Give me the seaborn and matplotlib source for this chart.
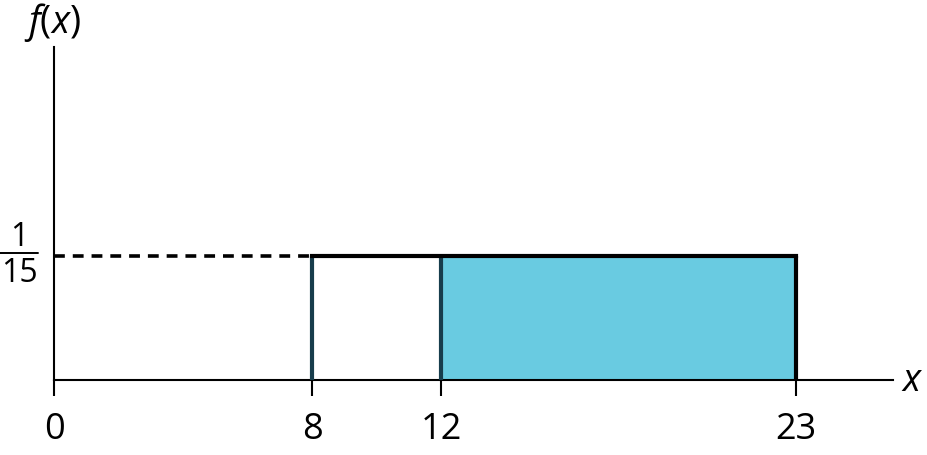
import matplotlib
matplotlib.use("Agg")
import matplotlib.pyplot as plt
import seaborn as sns
import pandas as pd

# data
a_val = 8
c_val = 12
b_val = 23
height = 1 / 15
x_ticks = [0, 8, 12, 23]
x_tick_labels = ["0", "8", "12", "23"]
y_num = "1"
y_den = "15"

sns.set_theme(style="ticks")
plt.rcParams["font.family"] = ["Open Sans", "DejaVu Sans"]
plt.rcParams["mathtext.fontset"] = "custom"
plt.rcParams["mathtext.rm"] = "Open Sans"
plt.rcParams["mathtext.it"] = "Open Sans:italic"

fig = plt.figure(figsize=(9.27, 4.56), dpi=100)
ax = fig.add_axes([54 / 927, 1 - 381 / 456, (893 - 54) / 927, (381 - 48) / 456])
ax.set_xlim(0, 26)
ymax = (381 - 48) / 124 * height
ax.set_ylim(0, ymax)

# shaded region
ax.fill_between([c_val, b_val], [height, height], 0, color="#69cbe1", linewidth=0, zorder=1)

# top line
top = pd.DataFrame({"x": [a_val, b_val], "y": [height, height]})
sns.lineplot(data=top, x="x", y="y", ax=ax, color="black", linewidth=3, zorder=4,
             solid_capstyle="projecting")
# dashed guide
guide = pd.DataFrame({"x": [0, a_val], "y": [height, height]})
sns.lineplot(data=guide, x="x", y="y", ax=ax, color="black", linewidth=2.6,
             linestyle=(0, (3, 2.2)), zorder=3)

ax.vlines([a_val, c_val], 0, height, color="#173d4c", linewidth=3, zorder=3)
ax.vlines([b_val], 0, height, color="black", linewidth=3, zorder=3)

# tick marks below the axis
tick_len = 16 / 124 * height
ax.vlines(x_ticks, -tick_len, 0, color="black", linewidth=1.5, clip_on=False, zorder=5)

for s in ["top", "right"]:
    ax.spines[s].set_visible(False)
for s in ["left", "bottom"]:
    ax.spines[s].set_color("black")
    ax.spines[s].set_linewidth(1.5)

ax.set_xticks(x_ticks)
ax.set_xticklabels(x_tick_labels, fontsize=26)
ax.tick_params(axis="x", length=0, pad=22, labelcolor="black")
ax.set_yticks([])
ax.set_xlabel("")
ax.set_ylabel("")

# fraction label for 1/15
fig.text(19 / 927, 1 - 238 / 456, y_num, fontsize=23, ha="center", va="center", color="black")
fig.text(19 / 927, 1 - 273 / 456, y_den, fontsize=23, ha="center", va="center", color="black")
fig.add_artist(plt.Line2D([0 / 927, 38 / 927], [1 - 254 / 456, 1 - 254 / 456],
                          color="black", linewidth=1.4))

fig.text(52 / 927, 1 - 22 / 456, r"$\mathit{f}$($\mathit{x}$)", fontsize=27,
         ha="center", va="center", color="black")
fig.text(912 / 927, 1 - 381 / 456, r"$\mathit{x}$", fontsize=27,
         ha="center", va="center", color="black")

fig.savefig("out.png", dpi=100)
